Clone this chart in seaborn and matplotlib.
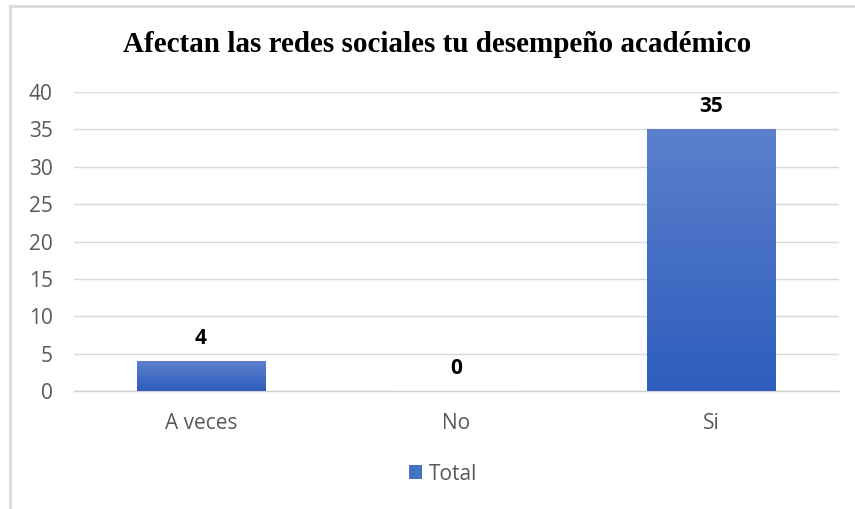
import numpy as np
import pandas as pd
import matplotlib
matplotlib.use("Agg")
import matplotlib.pyplot as plt
from matplotlib.patches import Patch, Rectangle
from matplotlib.colors import LinearSegmentedColormap
import seaborn as sns

categories = ["A veces", "No", "Si"]
totals = [4, 0, 35]
y_ticks = [0, 5, 10, 15, 20, 25, 30, 35, 40]
title = "Afectan las redes sociales tu desempeño académico"
series_name = "Total"

df = pd.DataFrame({"respuesta": categories, "total": totals})

sns.set_theme(style="white")
plt.rcParams["font.family"] = ["Open Sans", "DejaVu Sans"]

fig = plt.figure(figsize=(8.55, 5.09), dpi=100)
ax = fig.add_axes([73.5 / 855, 1 - 391 / 509, 765 / 855, 299 / 509])

sns.barplot(data=df, x="respuesta", y="total", color="#4472c4",
            width=0.505, ax=ax, zorder=3, saturation=1)

# vertical gradient fill for each bar
grad_cmap = LinearSegmentedColormap.from_list("bar", ["#2e5dbd", "#5b80cc"])
grad = np.linspace(0, 1, 256).reshape(-1, 1)
for p in ax.patches:
    x0, y0 = p.get_x(), p.get_y()
    w, h = p.get_width(), p.get_height()
    if h <= 0:
        continue
    p.set_edgecolor("none")
    im = ax.imshow(grad, cmap=grad_cmap, origin="lower", aspect="auto",
                   extent=[x0, x0 + w, y0, y0 + h], zorder=3.5,
                   interpolation="bicubic")
    im.set_clip_path(p)

ax.set_xlim(-0.5, 2.5)
ax.set_ylim(0, 40)
ax.set_yticks(y_ticks)
ax.yaxis.grid(True, color="#d9d9d9", linewidth=1.0, zorder=0)
ax.set_axisbelow(True)
for s in ["top", "right", "left"]:
    ax.spines[s].set_visible(False)
ax.spines["bottom"].set_color("#d0d0d0")
ax.spines["bottom"].set_linewidth(1.0)
ax.tick_params(axis="both", length=0, labelsize=15, labelcolor="#595959")
ax.tick_params(axis="y", pad=15)
ax.tick_params(axis="x", pad=16)
ax.set_xlabel("")
ax.set_ylabel("")

for i, v in enumerate(totals):
    ax.annotate(str(v), (i, v), xytext=(0, 9), textcoords="offset points",
                ha="center", va="bottom", fontsize=15, fontweight="bold",
                color="black")

fig.text(437 / 855, 1 - 45 / 509, title, ha="center", va="center",
         fontsize=21, fontweight="bold", family="Liberation Serif", color="black")

handle = Patch(facecolor="#4472c4", edgecolor="none")
fig.legend([handle], [series_name], loc="center", bbox_to_anchor=(443 / 855, 1 - 474 / 509),
           frameon=False, fontsize=15, handlelength=0.65, handleheight=0.65,
           handletextpad=0.3, labelcolor="#595959")

# chart frame
fig.patches.append(Rectangle((9.5 / 855, -0.05), 2, 1 - 5.5 / 509 + 0.05,
                             transform=fig.transFigure, fill=False,
                             edgecolor="#d9d9d9", linewidth=2))

fig.savefig("out.png", dpi=100)
